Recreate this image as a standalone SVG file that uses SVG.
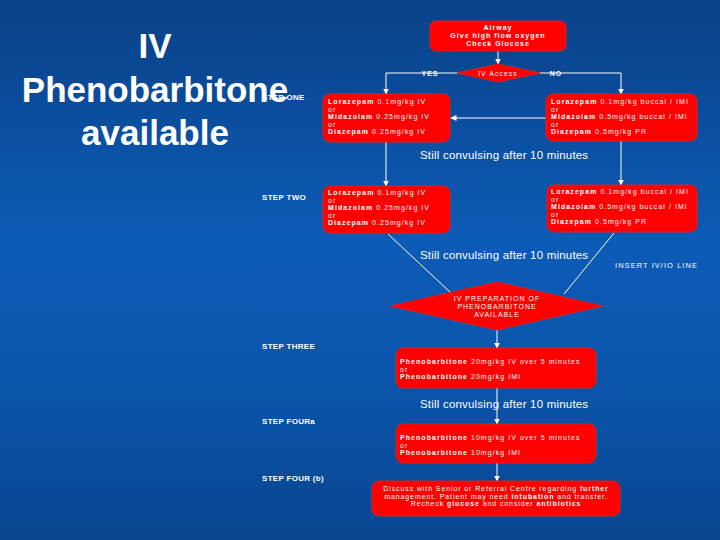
<svg xmlns="http://www.w3.org/2000/svg" width="720" height="540" viewBox="0 0 720 540">
<defs>
<linearGradient id="bg" x1="0" y1="0" x2="0" y2="1">
<stop offset="0" stop-color="#0a4187"/>
<stop offset="0.45" stop-color="#0c5bb6"/>
<stop offset="0.7" stop-color="#0b55ac"/>
<stop offset="1" stop-color="#084690"/>
</linearGradient>
<marker id="ah" viewBox="0 0 6 6" refX="5.5" refY="3" markerWidth="6" markerHeight="6" markerUnits="userSpaceOnUse" orient="auto">
<path d="M0,0 L6,3 L0,6 z" fill="#ffffff"/>
</marker>
</defs>
<style>
.box{fill:#ff0000;stroke:#e02020;stroke-width:1}
.dia{fill:#ff0000;stroke:#e02020;stroke-width:1}
.bt{font-family:"Liberation Sans",Arial,sans-serif;font-size:7px;letter-spacing:1.05px;fill:#ffffff}
.b{font-weight:bold}
.ct{font-family:"Liberation Sans",Arial,sans-serif;font-size:7px;letter-spacing:1px;fill:#ffffff;text-anchor:middle}
.step{font-family:"Liberation Sans",Arial,sans-serif;font-size:8px;letter-spacing:0.3px;font-weight:bold;fill:#ffffff}
.still{font-family:"Liberation Sans",Arial,sans-serif;font-size:11.5px;letter-spacing:0.2px;fill:#ffffff}
.title{font-family:"Liberation Sans",Arial,sans-serif;font-size:35px;font-weight:bold;fill:#ffffff;text-anchor:middle}
.ln{stroke:#ffffff;stroke-width:1;fill:none}
</style>
<rect width="720" height="540" fill="url(#bg)"/>

<g id="step-labels">
<text class="step" x="262" y="100">STEP ONE</text>
<text class="step" x="262" y="200">STEP TWO</text>
<text class="step" x="262" y="349">STEP THREE</text>
<text class="step" x="262" y="424">STEP FOURa</text>
<text class="step" x="262" y="481">STEP FOUR (b)</text>
</g>

<g id="title">
<text class="title" x="155" y="58">IV</text>
<text class="title" x="155" y="102">Phenobarbitone</text>
<text class="title" x="155" y="145">available</text>
</g>

<g id="connectors">
<line class="ln" x1="498" y1="51" x2="498" y2="64" marker-end="url(#ah)"/>
<polyline class="ln" points="457,73 386,73 386,94" marker-end="url(#ah)"/>
<polyline class="ln" points="540,73 621,73 621,94" marker-end="url(#ah)"/>
<line class="ln" x1="546" y1="118" x2="451" y2="118" marker-end="url(#ah)"/>
<line class="ln" x1="386" y1="142" x2="386" y2="186" marker-end="url(#ah)"/>
<line class="ln" x1="621" y1="141" x2="621" y2="185" marker-end="url(#ah)"/>
<line class="ln" x1="388" y1="234" x2="451" y2="293"/>
<line class="ln" x1="614" y1="233" x2="564" y2="294"/>
<line class="ln" x1="497" y1="330" x2="497" y2="348" marker-end="url(#ah)"/>
<line class="ln" x1="497" y1="388" x2="497" y2="424" marker-end="url(#ah)"/>
<line class="ln" x1="497" y1="463" x2="497" y2="481" marker-end="url(#ah)"/>
<text class="ct b" x="430" y="76">YES</text>
<text class="ct b" x="556" y="76">NO</text>
<text class="still" x="420" y="159">Still convulsing after 10 minutes</text>
<text class="still" x="420" y="259">Still convulsing after 10 minutes</text>
<text class="bt" x="615" y="268" style="font-size:7.5px">INSERT IV/IO LINE</text>
<text class="still" x="420" y="408">Still convulsing after 10 minutes</text>
</g>

<g id="n-airway">
<rect class="box" x="430" y="21" width="136" height="30" rx="6"/>
<text class="ct b" x="498" y="30">Airway</text>
<text class="ct b" x="498" y="38">Give high flow oxygen</text>
<text class="ct b" x="498" y="46">Check Glucose</text>
</g>

<g id="n-ivaccess">
<polygon class="dia" points="498,64 540,73 498,82 457,73"/>
<text class="ct" x="498" y="76">IV Access</text>
</g>

<g id="n-step1-iv">
<rect class="box" x="323" y="94" width="127" height="48" rx="7"/>
<text class="bt" x="328" y="104"><tspan class="b">Lorazepam</tspan> 0.1mg/kg IV</text>
<text class="bt" x="328" y="111.5">or</text>
<text class="bt" x="328" y="119"><tspan class="b">Midazolam</tspan> 0.25mg/kg IV</text>
<text class="bt" x="328" y="126.5">or</text>
<text class="bt" x="328" y="134"><tspan class="b">Diazepam</tspan> 0.25mg/kg IV</text>
</g>

<g id="n-step1-noiv">
<rect class="box" x="546" y="94" width="151" height="47" rx="7"/>
<text class="bt" x="551" y="104"><tspan class="b">Lorazepam</tspan> 0.1mg/kg buccal / IMI</text>
<text class="bt" x="551" y="111.5">or</text>
<text class="bt" x="551" y="119"><tspan class="b">Midazolam</tspan> 0.5mg/kg buccal / IMI</text>
<text class="bt" x="551" y="126.5">or</text>
<text class="bt" x="551" y="134"><tspan class="b">Diazepam</tspan> 0.5mg/kg PR</text>
</g>

<g id="n-step2-iv">
<rect class="box" x="323" y="186" width="127" height="47" rx="7"/>
<text class="bt" x="328" y="195"><tspan class="b">Lorazepam</tspan> 0.1mg/kg IV</text>
<text class="bt" x="328" y="202.5">or</text>
<text class="bt" x="328" y="210"><tspan class="b">Midazolam</tspan> 0.25mg/kg IV</text>
<text class="bt" x="328" y="217.5">or</text>
<text class="bt" x="328" y="225"><tspan class="b">Diazepam</tspan> 0.25mg/kg IV</text>
</g>

<g id="n-step2-noiv">
<rect class="box" x="547" y="185" width="150" height="47" rx="7"/>
<text class="bt" x="551" y="194"><tspan class="b">Lorazepam</tspan> 0.1mg/kg buccal / IMI</text>
<text class="bt" x="551" y="201.5">or</text>
<text class="bt" x="551" y="209"><tspan class="b">Midazolam</tspan> 0.5mg/kg buccal / IMI</text>
<text class="bt" x="551" y="216.5">or</text>
<text class="bt" x="551" y="224"><tspan class="b">Diazepam</tspan> 0.5mg/kg PR</text>
</g>

<g id="n-phenodecision">
<polygon class="dia" points="497,282 603,306 497,330 390,306"/>
<text class="ct" x="497" y="301">IV PREPARATION  OF</text>
<text class="ct" x="497" y="309">PHENOBARBITONE</text>
<text class="ct" x="497" y="317">AVAILABLE</text>
</g>

<g id="n-step3">
<rect class="box" x="396" y="348" width="200" height="40" rx="7"/>
<text class="bt" x="400" y="364"><tspan class="b">Phenobarbitone</tspan> 20mg/kg IV over 5 minutes</text>
<text class="bt" x="400" y="371.5">or</text>
<text class="bt" x="400" y="379"><tspan class="b">Phenobarbitone</tspan> 20mg/kg IMI</text>
</g>

<g id="n-step4a">
<rect class="box" x="396" y="424" width="200" height="39" rx="7"/>
<text class="bt" x="400" y="440"><tspan class="b">Phenobarbitone</tspan> 10mg/kg IV over 5 minutes</text>
<text class="bt" x="400" y="447.5">or</text>
<text class="bt" x="400" y="455"><tspan class="b">Phenobarbitone</tspan> 10mg/kg IMI</text>
</g>

<g id="n-step4b">
<rect class="box" x="372" y="481" width="248" height="35" rx="7"/>
<text class="ct" x="496" y="491" style="letter-spacing:0.9px">Discuss with Senior or Referral Centre regarding <tspan class="b">further</tspan></text>
<text class="ct" x="496" y="498.5" style="letter-spacing:0.9px">management. Patient may need <tspan class="b">intubation</tspan> and transfer.</text>
<text class="ct" x="496" y="506" style="letter-spacing:0.9px">Recheck <tspan class="b">glucose</tspan> and consider <tspan class="b">antibiotics</tspan></text>
</g>
</svg>
